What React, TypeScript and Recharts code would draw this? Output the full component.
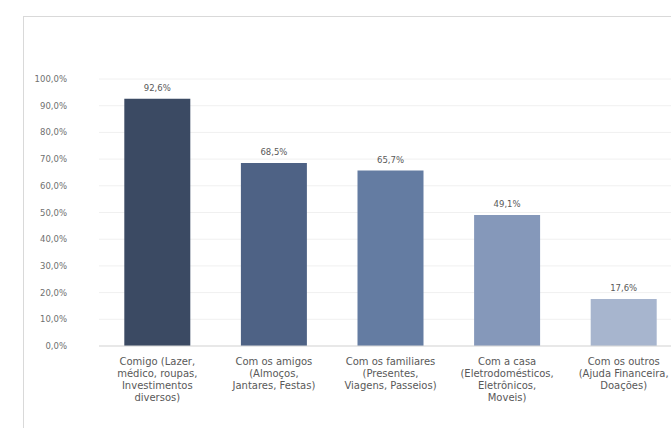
import { BarChart, Bar, XAxis, YAxis, CartesianGrid, Cell, LabelList } from "recharts";

// Gastos por destino (% dos respondentes)
const categories = [
  "Comigo (Lazer,|médico, roupas,|Investimentos|diversos)",
  "Com os amigos|(Almoços,|Jantares, Festas)",
  "Com os familiares|(Presentes,|Viagens, Passeios)",
  "Com a casa|(Eletrodomésticos,|Eletrônicos,|Moveis)",
  "Com os outros|(Ajuda Financeira,|Doações)",
];
const values = [92.6, 68.5, 65.7, 49.1, 17.6];
const barColors = ["#3b4a63", "#4e6285", "#647ca2", "#8598ba", "#a7b5ce"];
const yTicks = [0, 10, 20, 30, 40, 50, 60, 70, 80, 90, 100];

const data = categories.map((name, i) => ({ name, value: values[i] }));

const FONT = "'DejaVu Sans', sans-serif";
const fmt = (v: number) => v.toFixed(1).replace(".", ",") + "%";

function CategoryTick({ x, y, payload }: any) {
  const lines = String(payload.value).split("|");
  return (
    <text x={x} y={y} textAnchor="middle" fontFamily={FONT} fontSize={10} fill="#595959">
      {lines.map((line, i) => (
        <tspan key={i} x={x} dy={i === 0 ? 11 : 12}>
          {line}
        </tspan>
      ))}
    </text>
  );
}

export default function App() {
  return (
    <div
      style={{
        position: "absolute",
        left: 0,
        top: 0,
        width: 671,
        height: 428,
        overflow: "hidden",
        background: "#fff",
      }}
    >
      <div
        style={{
          position: "absolute",
          left: 23,
          top: 16,
          width: 720,
          height: 500,
          borderLeft: "1px solid #d9d9d9",
          borderTop: "1px solid #d9d9d9",
        }}
      />
      <div style={{ position: "absolute", left: 0, top: 0 }}>
        <BarChart
          width={700}
          height={428}
          data={data}
          margin={{ top: 79, right: 18, bottom: 0, left: 0 }}
          barCategoryGap="21.7%"
        >
          <CartesianGrid vertical={false} stroke="#f0f0f0" />
          <XAxis
            dataKey="name"
            interval={0}
            height={82}
            tickLine={false}
            axisLine={{ stroke: "#d9d9d9" }}
            tick={<CategoryTick />}
          />
          <YAxis
            width={99}
            domain={[0, 100]}
            ticks={yTicks}
            tickFormatter={fmt}
            axisLine={false}
            tickLine={false}
            tickSize={0}
            tickMargin={32}
            tick={{ fontFamily: FONT, fontSize: 8.5, fill: "#707070" }}
          />
          <Bar dataKey="value" isAnimationActive={false}>
            {data.map((d, i) => (
              <Cell key={d.name} fill={barColors[i]} />
            ))}
            <LabelList
              dataKey="value"
              position="top"
              offset={8}
              formatter={(v: any) => fmt(Number(v))}
              style={{ fontFamily: FONT, fontSize: 8.5, fill: "#595959" }}
            />
          </Bar>
        </BarChart>
      </div>
    </div>
  );
}
